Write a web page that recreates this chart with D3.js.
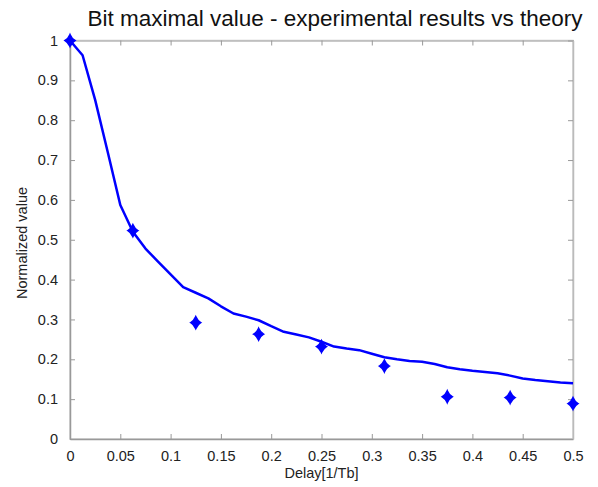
<!DOCTYPE html>
<html><head><meta charset="utf-8">
<script src="https://cdn.jsdelivr.net/npm/d3@7"></script>
<style>body{margin:0;background:#fff}svg{display:block}</style>
</head><body>
<script>
const title = "Bit maximal value - experimental results vs theory";
const xLabel = "Delay[1/Tb]";
const yLabel = "Normalized value";
const xTicks = [0,0.05,0.1,0.15,0.2,0.25,0.3,0.35,0.4,0.45,0.5];
const yTicks = [0,0.1,0.2,0.3,0.4,0.5,0.6,0.7,0.8,0.9,1];
const theoryX = [0,0.0125,0.025,0.0375,0.05,0.0625,0.075,0.0875,0.1,0.1125,0.125,0.1375,0.15,0.1625,0.175,0.1875,0.2,0.2125,0.225,0.2375,0.25,0.2625,0.275,0.2875,0.3,0.3125,0.325,0.3375,0.35,0.3625,0.375,0.3875,0.4,0.4125,0.425,0.4375,0.45,0.4625,0.475,0.4875,0.5];
const theoryY = [1.0,0.963,0.851,0.72,0.587,0.52,0.478,0.445,0.413,0.381,0.367,0.353,0.333,0.315,0.307,0.298,0.283,0.269,0.262,0.255,0.244,0.232,0.227,0.223,0.214,0.205,0.200,0.196,0.194,0.188,0.180,0.175,0.171,0.168,0.165,0.159,0.152,0.148,0.145,0.142,0.140];
const expX = [0,0.0625,0.125,0.1875,0.25,0.3125,0.375,0.4375,0.5];
const expY = [1.0,0.523,0.292,0.263,0.232,0.183,0.106,0.104,0.089];

const W=598,H=487;
const L=70,R=573,T=40.5,B=439;
const svg=d3.select("body").append("svg").attr("width",W).attr("height",H);
const x=d3.scaleLinear().domain([0,0.5]).range([L,R]);
const y=d3.scaleLinear().domain([0,1]).range([B,T]);
const font="Liberation Sans, Arial, sans-serif";
const axisCol="#999";

svg.append("rect").attr("x",L).attr("y",T).attr("width",R-L).attr("height",B-T)
  .attr("fill","none").attr("stroke","#ccc").attr("stroke-width",1.5);

function styleAxis(g,showText){
  g.select(".domain").attr("stroke",axisCol).attr("stroke-width",1.5);
  g.selectAll(".tick line").attr("stroke",axisCol);
  g.selectAll(".tick text").attr("fill","#222").style("font-size","14.5px").style("font-family",font);
  if(!showText) g.selectAll(".tick text").remove();
}
const fmt=d=>String(d);
svg.append("g").attr("transform",`translate(0,${B})`)
  .call(d3.axisBottom(x).tickValues(xTicks).tickFormat(fmt).tickSizeInner(-5).tickSizeOuter(0).tickPadding(12))
  .call(g=>styleAxis(g,true));
svg.append("g").attr("transform",`translate(0,${T})`)
  .call(d3.axisTop(x).tickValues(xTicks).tickSizeInner(-5).tickSizeOuter(0))
  .call(g=>{styleAxis(g,false);g.select(".domain").attr("stroke","#bbb");});
svg.append("g").attr("transform",`translate(${L},0)`)
  .call(d3.axisLeft(y).tickValues(yTicks).tickFormat(fmt).tickSizeInner(-5).tickSizeOuter(0).tickPadding(12))
  .call(g=>styleAxis(g,true));
svg.append("g").attr("transform",`translate(${R},0)`)
  .call(d3.axisRight(y).tickValues(yTicks).tickSizeInner(-5).tickSizeOuter(0))
  .call(g=>{styleAxis(g,false);g.select(".domain").attr("stroke","#bbb");});

const pts=theoryX.map((v,i)=>[v,theoryY[i]]);
svg.append("path").datum(pts)
  .attr("d",d3.line().x(d=>x(d[0])).y(d=>y(d[1])))
  .attr("fill","none").attr("stroke","#0000ff").attr("stroke-width",2.5).attr("stroke-linejoin","round");

const star="M0,-6 Q1.8,-1.8 5,0 Q1.8,1.8 0,6 Q-1.8,1.8 -5,0 Q-1.8,-1.8 0,-6Z";
svg.append("g").selectAll("path").data(expX.map((v,i)=>[v,expY[i]])).join("path")
  .attr("transform",d=>`translate(${x(d[0])},${y(d[1])})`)
  .attr("d",star).attr("fill","#0000ff").attr("stroke","#0000ff").attr("stroke-width",1.5);

svg.append("text").attr("x",335).attr("y",26).attr("text-anchor","middle")
  .style("font-family",font).style("font-size","22.5px").attr("fill","#111").text(title);
svg.append("text").attr("x",(L+R)/2).attr("y",478).attr("text-anchor","middle")
  .style("font-family",font).style("font-size","14.5px").attr("fill","#222").text(xLabel);
svg.append("text").attr("transform",`translate(27,243) rotate(-90)`).attr("text-anchor","middle")
  .style("font-family",font).style("font-size","14.5px").attr("fill","#222").text(yLabel);
</script>
</body></html>
